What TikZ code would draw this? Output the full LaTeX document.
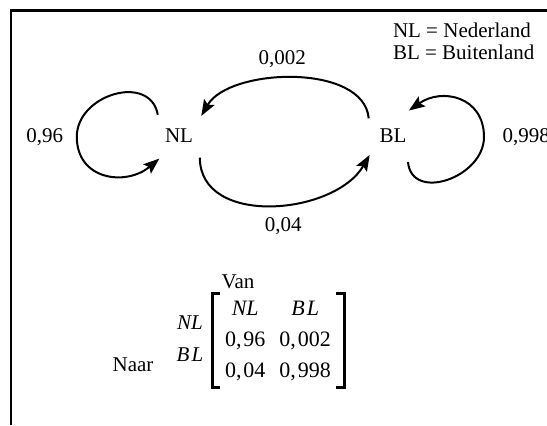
\documentclass[tikz,border=0pt]{standalone}
\usepackage{fontspec}
\setmainfont{Liberation Serif}
\usetikzlibrary{arrows.meta}
\renewcommand{\arraystretch}{1.17}

\begin{document}
\begin{tikzpicture}[x=0.5pt,y=0.5pt,node distance={107pt},line width=1pt,
    >={Stealth[length=8pt,width=6pt,inset=1.5pt]},
    font=\fontsize{10.5}{12.6}\selectfont,
    state/.style={circle,minimum size=29pt,inner sep=0pt},
    bracket/.style={line width=1.5pt}]
      \useasboundingbox (0,0) rectangle (547,425);
      % frame
      \draw[line width=1.5pt] (10,414.5) -- (547,414.5);
      \draw (11,415) -- (11,0);

      % legend
      \node[anchor=west,inner sep=0pt](leg1) at (392,395){NL = Nederland};
      \node[anchor=west,inner sep=0pt](leg2) at (392,373){BL = Buitenland};

      \node[state](nl) at (179,289){NL};
      \node[state](bl)[right of=nl]{BL};

      \path[->]
      (bl.144) edge[out=95,in=60,looseness=0.85] node[pos=0.55,above=1.5pt]{0,002} (nl.42)
      (nl.-46) edge[out=-90,in=-120,looseness=1.05] node[pos=0.55,below=3pt]{0,04} (bl.-141)
      ;

      % loops
      \draw[->] (nl.135) to[out=100,in=90,looseness=1.3] +(-81,-22) node[left=3pt]{0,96}
        to[out=-90,in=-140,looseness=1.3] (nl.-131);
      \draw[->] (bl.-60) to[out=-85,in=-90,looseness=1.3] +(76,25) node[right=5.5pt]{0,998}
        to[out=90,in=35,looseness=1.3] (bl.58);

      % matrix
      \node(van) at (238,143){Van};
      \node[inner sep=0pt,font=\fontsize{11}{13.2}\selectfont](mat) at (278,84.5){%
        \begin{tabular}{@{\kern3pt}c@{\kern7pt}c@{\kern3pt}}
        \textit{NL} & \textit{B\kern1pt L}\\
        0,\kern1pt 96 & 0,\kern1pt 002\\
        0,\kern1pt 04 & 0,\kern1pt 998
      \end{tabular}};
      \draw[bracket] ([xshift=1pt]mat.north west) -- ([xshift=-3pt]mat.north west)
        -- ([xshift=-3pt]mat.south west) -- ([xshift=1pt]mat.south west);
      \draw[bracket] ([xshift=-1pt]mat.north east) -- ([xshift=3pt]mat.north east)
        -- ([xshift=3pt]mat.south east) -- ([xshift=-1pt]mat.south east);
      \node(rnl) at (190,102){\textit{NL}};
      \node(rbl) at (190,70){\textit{B\kern1pt L}};
      \node(naar) at (133,60){Naar};

    \end{tikzpicture}
\end{document}
